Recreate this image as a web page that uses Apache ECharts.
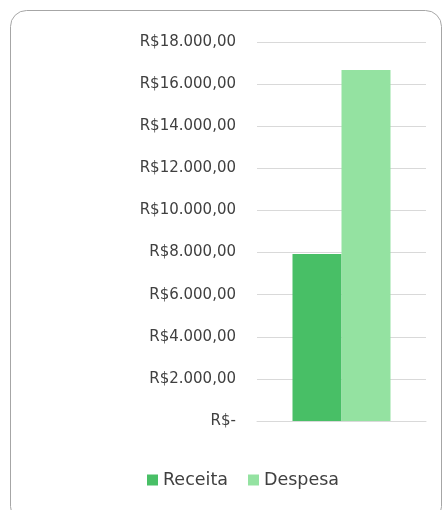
<!DOCTYPE html>
<html><head><meta charset="utf-8">
<script src="https://cdn.jsdelivr.net/npm/echarts@6/dist/echarts.min.js"></script>
<style>html,body{margin:0;padding:0;background:#fff}#c{width:443px;height:510px}</style>
</head><body><div id="c"></div>
<script>
const categories = [''];
const seriesNames = ['Receita', 'Despesa'];
const receita = [7930];
const despesa = [16670];
const yTicks = [0, 2000, 4000, 6000, 8000, 10000, 12000, 14000, 16000, 18000];

function fmt(v) {
  if (v === 0) return 'R$-';
  const s = Math.round(v).toString().replace(/\B(?=(\d{3})+(?!\d))/g, '.');
  return 'R$' + s + ',00';
}
const font = '"DejaVu Sans", sans-serif';
const chart = echarts.init(document.getElementById('c'), null, {renderer: 'canvas'});
chart.setOption({
  animation: false,
  graphic: [{
    type: 'rect', silent: true, z: -1,
    shape: {x: 10.5, y: 10.5, width: 431, height: 512, r: 16},
    style: {fill: 'none', stroke: '#a6a6a6', lineWidth: 1}
  }],
  grid: {left: 257, right: 17, top: 42, bottom: 89},
  legend: {
    top: 466, left: 142, itemWidth: 11, itemHeight: 11, itemGap: 20,
    icon: 'rect',
    textStyle: {fontFamily: font, fontSize: 17.5, color: '#404040'},
    data: seriesNames
  },
  xAxis: {
    type: 'category', data: categories,
    axisLine: {show: true, lineStyle: {color: '#d9d9d9', width: 1}},
    axisTick: {show: false}, axisLabel: {show: false}
  },
  yAxis: {
    type: 'value', min: yTicks[0], max: yTicks[yTicks.length - 1], interval: 2000,
    axisLine: {show: false}, axisTick: {show: false},
    splitLine: {lineStyle: {color: '#d9d9d9', width: 1}},
    axisLabel: {formatter: fmt, margin: 21, fontFamily: font, fontSize: 15, color: '#404040'}
  },
  series: [
    {name: seriesNames[0], type: 'bar', data: receita, barWidth: 49, barGap: '0%', itemStyle: {color: '#48BF66'}},
    {name: seriesNames[1], type: 'bar', data: despesa, barWidth: 49, barGap: '0%', itemStyle: {color: '#94E2A1'}}
  ]
});
</script></body></html>
